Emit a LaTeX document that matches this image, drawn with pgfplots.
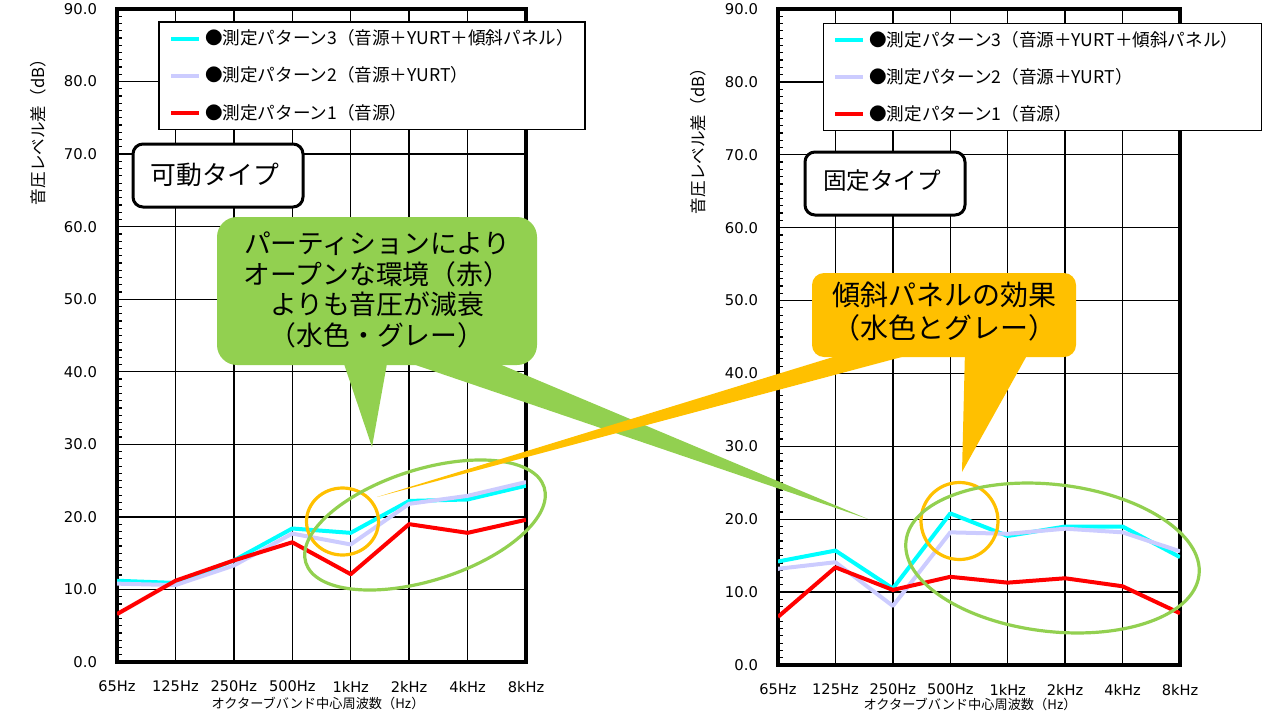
\documentclass[border=0pt]{standalone}
\usepackage{fontspec}
\setmainfont{DejaVu Sans}
\newfontfamily\jp{Noto Sans CJK JP}
\usepackage{pgfplots}
\pgfplotsset{compat=1.18}
\definecolor{cyanL}{RGB}{0,255,255}
\definecolor{grayL}{RGB}{204,204,255}
\definecolor{redL}{RGB}{255,0,0}
\definecolor{gr}{RGB}{146,208,80}
\definecolor{org}{RGB}{255,192,0}
\pgfplotsset{
 myaxis/.style={
  scale only axis, anchor=south west,
  xmin=0,xmax=7,ymin=0,ymax=90,
  xtick={0,...,7},
  xticklabels={65Hz,125Hz,250Hz,500Hz,1kHz,2kHz,4kHz,8kHz},
  ytick={0,10,...,90},
  minor y tick num=9,
  grid=major,
  major grid style={black, line width=0.7pt},
  axis line style={black, line width=1.8pt},
  tick align=inside,
  xtick pos=bottom, ytick pos=left,
  major tick length=4pt, minor tick length=2.6pt,
  major tick style={black, line width=0.7pt},
  minor tick style={black, line width=0.6pt},
  /pgf/number format/assume math mode=true,
  y tick label style={/pgf/number format/.cd, fixed, fixed zerofill, precision=1, /tikz/.cd, xshift=-6.5pt, font=\fontsize{7.4}{8}\selectfont},
  x tick label style={yshift=-6pt, font=\fontsize{7.3}{8}\selectfont},
  legend cell align=left,
  legend image code/.code={\draw[##1] (0pt,0pt) -- (14pt,0pt);},
  legend style={draw=black, line width=0.7pt, fill=white, anchor=north west,
    font=\jp\fontsize{8.8}{10}\selectfont, row sep=5.2pt,
    inner xsep=5pt, inner ysep=1.5pt,
    nodes={text height=7.8pt, text depth=1.6pt}},
  every axis plot/.append style={line width=2pt, no markers, line join=round},
 }
}
\begin{document}
\begin{tikzpicture}
\path[use as bounding box] (0,0) rectangle (640pt,360pt);

% ---------- left chart ----------
\begin{axis}[myaxis, at={(58.5pt,29pt)}, width=204.5pt, height=326.5pt,
  legend style={at={(0.101,0.981)}}]
\addplot[cyanL] coordinates {(0,11.2) (1,10.9) (2,14.0) (3,18.4) (4,17.8) (5,22.2) (6,22.4) (7,24.3)};
\addlegendentry{\makebox[183pt][l]{●測定パターン3（音源＋YURT＋傾斜パネル）}}
\addplot[grayL] coordinates {(0,10.8) (1,10.6) (2,13.3) (3,17.7) (4,16.2) (5,21.8) (6,22.9) (7,24.8)};
\addlegendentry{\makebox[183pt][l]{●測定パターン2（音源＋YURT）}}
\addplot[redL] coordinates {(0,6.6) (1,11.2) (2,14.0) (3,16.5) (4,12.1) (5,19.0) (6,17.8) (7,19.6)};
\addlegendentry{\makebox[183pt][l]{●測定パターン1（音源）}}
\end{axis}

% ---------- right chart ----------
\begin{axis}[myaxis, at={(389pt,27.5pt)}, width=201pt, height=328pt,
  legend style={at={(0.111,0.979)}}]
\addplot[cyanL] coordinates {(0,14.2) (1,15.7) (2,10.5) (3,20.8) (4,17.7) (5,19.0) (6,19.0) (7,14.8)};
\addlegendentry{\makebox[189pt][l]{●測定パターン3（音源＋YURT＋傾斜パネル）}}
\addplot[grayL] coordinates {(0,13.2) (1,14.1) (2,8.1) (3,18.2) (4,18.0) (5,18.7) (6,18.2) (7,15.6)};
\addlegendentry{\makebox[189pt][l]{●測定パターン2（音源＋YURT）}}
\addplot[redL] coordinates {(0,6.6) (1,13.4) (2,10.3) (3,12.1) (4,11.3) (5,11.9) (6,10.8) (7,7.1)};
\addlegendentry{\makebox[189pt][l]{●測定パターン1（音源）}}
\end{axis}

% ---------- annotations (pixel coordinates) ----------
\begin{scope}[x=0.5pt, y=-0.5pt, shift={(0pt,360pt)}]
 % axis titles
 \node[rotate=90, font=\jp\fontsize{8.3}{9}\selectfont] at (38,128) {音圧レベル差（dB）};
 \node[rotate=90, font=\jp\fontsize{8.3}{9}\selectfont] at (698,137) {音圧レベル差（dB）};
 \node[font=\jp\fontsize{6.6}{8}\selectfont] at (318,703) {オクターブバンド中心周波数（Hz）};
 \node[font=\jp\fontsize{6.6}{8}\selectfont] at (970,704) {オクターブバンド中心周波数（Hz）};

 % type boxes
 \draw[line width=1.5pt, rounded corners=5pt, fill=white] (133,144) rectangle (303,207);
 \node[font=\jp\fontsize{12.9}{14}\selectfont] at (215,175) {可動タイプ};
 \draw[line width=1.5pt, rounded corners=5pt, fill=white] (805,152) rectangle (965,215);
 \node[font=\jp\fontsize{11.8}{13}\selectfont] at (882,181) {固定タイプ};

 % circles and ellipses
 \draw[org, line width=1.6pt] (342.5,521.5) ellipse [x radius=18pt, y radius=16.75pt];
 \draw[org, line width=1.6pt] (959.5,521) ellipse [x radius=19.25pt, y radius=19.25pt];
 \draw[gr, line width=1.6pt, rotate around={17.6:(425,525)}] (425,525) ellipse [x radius=62.5pt, y radius=27.75pt];
 \draw[gr, line width=1.6pt, rotate around={-6.6:(1052.5,558)}] (1052.5,558) ellipse [x radius=73.75pt, y radius=36.75pt];

 % green callout
 \fill[gr, rounded corners=10pt] (217,217) rectangle (537,365);
 \fill[gr] (342,358) -- (388,358) -- (372,447) -- cycle;
 \fill[gr] (395,358) -- (485,358) -- (868,519) -- cycle;
 \node[align=center, font=\jp\fontsize{13.4}{15.4}\selectfont] at (377,290)
   {パーティションにより\\オープンな環境（赤）\\よりも音圧が減衰\\（水色・グレー）};

 % orange callout
 \fill[org, rounded corners=6pt] (812,273) rectangle (1076,357);
 \fill[org] (965,350) -- (1030,350) -- (962,472) -- cycle;
 \fill[org] (856,350) -- (928,350) -- (377,497) -- cycle;
 \node[align=center, font=\jp\fontsize{14}{16.5}\selectfont] at (944,312)
   {傾斜パネルの効果\\（水色とグレー）};
\end{scope}
\end{tikzpicture}
\end{document}
